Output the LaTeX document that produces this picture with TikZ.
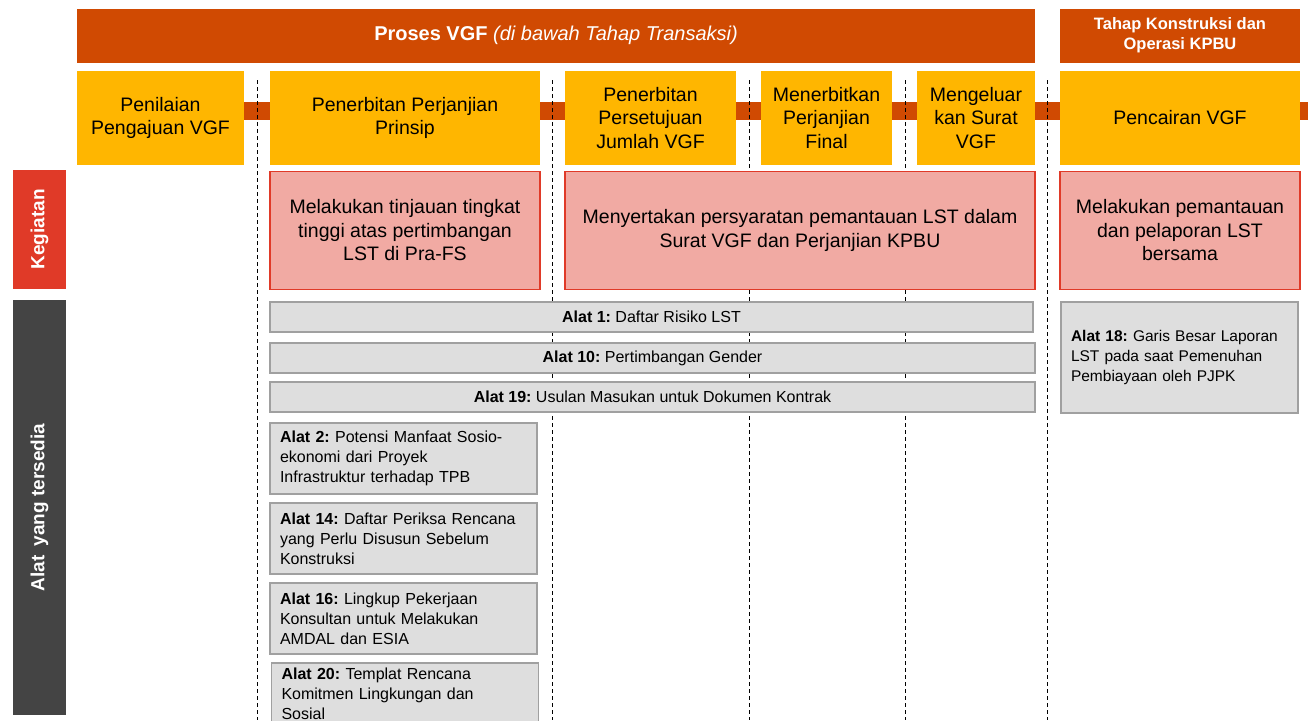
\documentclass[tikz,border=0pt]{standalone}
\usepackage{fontspec}
\setmainfont{Liberation Sans}
\usepackage{tikz}
\usetikzlibrary{positioning, backgrounds}
\definecolor{vgforange}{RGB}{208,74,2}
\definecolor{stageyellow}{RGB}{255,182,0}
\definecolor{actred}{RGB}{224,58,40}
\definecolor{actpink}{RGB}{241,170,163}
\definecolor{tooldark}{RGB}{68,68,68}
\definecolor{toolgray}{RGB}{222,222,222}
\definecolor{toolborder}{RGB}{160,160,160}
\frenchspacing

\begin{document}
\begin{tikzpicture}[
    x=1pt, y=-1pt,
    header/.style={fill=vgforange, text=white, inner sep=0pt, outer sep=0pt, minimum height=54pt, align=center},
    stage/.style={fill=stageyellow, inner sep=0pt, outer sep=0pt, minimum height=94pt, align=center, font=\fontsize{19.5}{23.5}\selectfont},
    activity/.style={draw=actred, line width=1.2pt, fill=actpink, inner sep=0pt, outer sep=0pt, minimum height=118pt, align=center, font=\fontsize{19.5}{23.5}\selectfont},
    toolbar/.style={draw=toolborder, line width=1.3pt, fill=toolgray, inner sep=0pt, minimum height=30pt, font=\fontsize{16}{20}\selectfont},
    toolbox/.style={draw=toolborder, line width=1.3pt, fill=toolgray, inner xsep=10pt, inner ysep=0pt, minimum height=71pt, text width=247pt, align=left, font=\fontsize{16}{20}\selectfont},
    rowlabel/.style={text=white, rotate=90, inner sep=0pt, minimum height=53pt, font=\bfseries\fontsize{19}{22}\selectfont},
    flowbar/.style={draw=vgforange, line width=18pt},
    divider/.style={draw=black, line width=1pt, dash pattern=on 4pt off 3pt}
]
    \useasboundingbox (0,0) rectangle (1308,720);
    \clip (0,0) rectangle (1308,720);

    % Headers
    \node[header, minimum width=958pt, font=\fontsize{20}{24}\selectfont] (proses) at (556,35.5) {\textbf{Proses VGF} \textit{(di bawah Tahap Transaksi)}};
    \node[header, minimum width=240pt, font=\bfseries\fontsize{16.5}{20}\selectfont] (tahap) at (1180,35.5) {Tahap Konstruksi dan\\Operasi KPBU};

    % Stages
    \node[stage, minimum width=167pt] (penilaian) at (160.5,118) {Penilaian\\Pengajuan VGF};
    \node[stage, minimum width=270pt] (prinsip) at (405,118) {Penerbitan Perjanjian\\Prinsip};
    \node[stage, minimum width=171pt] (persetujuan) at (650.5,118) {Penerbitan\\Persetujuan\\Jumlah VGF};
    \node[stage, minimum width=131pt] (final) at (826.5,118) {Menerbitkan\\Perjanjian\\Final};
    \node[stage, minimum width=118pt] (surat) at (976,118) {Mengeluar\\kan Surat\\VGF};
    \node[stage, minimum width=240pt] (pencairan) at (1180,118) {Pencairan VGF};

    % Row labels
    \node[rowlabel, fill=actred, minimum width=119pt] (kegiatan) at (39.5,229.5) {Kegiatan};
    \node[rowlabel, fill=tooldark, minimum width=415pt] (alat) at (39.5,507.5) {Alat\hspace{4pt} yang tersedia};

    % Activities
    \node[activity, minimum width=270pt] (tinjauan) at (405,230.5) {Melakukan tinjauan tingkat\\tinggi atas pertimbangan\\LST di Pra-FS};
    \node[activity, minimum width=470pt] (persyaratan) at (800,230.5) {Menyertakan persyaratan pemantauan LST dalam\\Surat VGF dan Perjanjian KPBU};
    \node[activity, minimum width=240pt] (pemantauan) at (1180,230.5) {Melakukan pemantauan\\dan pelaporan LST\\bersama};

    % Tools
    \node[toolbar, minimum width=763pt] (alat1) at (651.5,317) {\textbf{Alat 1:} Daftar Risiko LST};
    \node[toolbar, minimum width=765pt] (alat10) at (652.5,358) {\textbf{Alat 10:} Pertimbangan Gender};
    \node[toolbar, minimum width=765pt] (alat19) at (652.5,397) {\textbf{Alat 19:} Usulan Masukan untuk Dokumen Kontrak};
    \node[toolbox, text width=217pt, minimum height=111pt, font=\fontsize{15.5}{20}\selectfont] (alat18) at (1179.5,357.5) {\textbf{Alat 18:} Garis Besar Laporan\\LST pada saat Pemenuhan\\Pembiayaan oleh PJPK};
    \node[toolbox] (alat2) at (403.5,458.5) {\textbf{Alat 2:} Potensi Manfaat Sosio-\\ekonomi dari Proyek\\Infrastruktur terhadap TPB};
    \node[toolbox] (alat14) at (403.5,538.5) {\textbf{Alat 14:} Daftar Periksa Rencana\\yang Perlu Disusun Sebelum\\Konstruksi};
    \node[toolbox] (alat16) at (403.5,618.5) {\textbf{Alat 16:} Lingkup Pekerjaan\\Konsultan untuk Melakukan\\AMDAL dan ESIA};
    \node[toolbox, minimum height=62pt] (alat20) at (405,694) {\textbf{Alat 20:} Templat Rencana\\Komitmen Lingkungan dan\\Sosial};

    % Flow bar and dividers
    \coordinate (barend) at (1308,111);
    \begin{scope}[on background layer]
        \draw[flowbar] ([yshift=7pt]penilaian.east) -- (barend);
        \foreach \xd in {257,552,749,905,1047}
            \draw[divider] (\xd,80) -- (\xd,720);
    \end{scope}
\end{tikzpicture}
\end{document}
